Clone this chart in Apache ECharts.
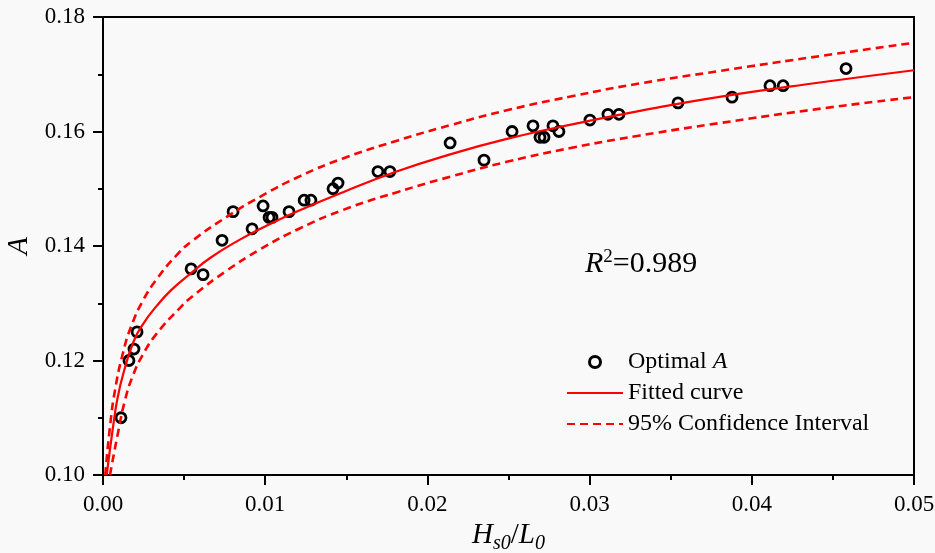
<!DOCTYPE html>
<html>
<head>
<meta charset="utf-8">
<script src="https://cdn.jsdelivr.net/npm/echarts@6/dist/echarts.min.js"></script>
<style>
  html, body { margin: 0; padding: 0; background: #fff; }
  #chart { width: 935px; height: 553px; }
</style>
</head>
<body>
<div id="chart"></div>
<script>
// measured points (Hs0/L0, optimal A)
const pointX = [0.00111, 0.0016, 0.00191, 0.0021, 0.00543, 0.00617, 0.00734, 0.00802, 0.00919, 0.00987,
  0.01024, 0.01042, 0.01147, 0.0124, 0.01282, 0.01418, 0.01449, 0.01695, 0.01769, 0.0214,
  0.02349, 0.02522, 0.02651, 0.02694, 0.02719, 0.02774, 0.02811, 0.03002, 0.03113, 0.03181,
  0.03545, 0.03878, 0.04112, 0.04193, 0.04581];
const pointY = [0.110, 0.120, 0.122, 0.125, 0.136, 0.135, 0.141, 0.146, 0.143, 0.147,
  0.145, 0.145, 0.146, 0.148, 0.148, 0.150, 0.151, 0.153, 0.153, 0.158,
  0.155, 0.160, 0.161, 0.159, 0.159, 0.161, 0.160, 0.162, 0.163, 0.163,
  0.165, 0.166, 0.168, 0.168, 0.171];

// fitted curve
const fitX = [0.00023, 0.0006, 0.0009, 0.0013, 0.0019, 0.0025, 0.0033, 0.0042, 0.0054, 0.0066, 0.0083,
  0.0102, 0.0121, 0.0148, 0.0181, 0.0214, 0.0249, 0.029, 0.0331, 0.0381, 0.0443, 0.05];
const fitY = [0.100, 0.108, 0.1135, 0.1182, 0.1234, 0.1265, 0.1295, 0.1323, 0.1352, 0.1379, 0.1409,
  0.1437, 0.1462, 0.1494, 0.1530, 0.1560, 0.1587, 0.1613, 0.1636, 0.1661, 0.1686, 0.1707];

// 95% confidence band
const upperX = [0.00014, 0.00043, 0.00074, 0.00123, 0.00177, 0.00247, 0.00331, 0.00454, 0.00555, 0.00763,
  0.00968, 0.01215, 0.0148, 0.01813, 0.0214, 0.02489, 0.02898, 0.03311, 0.03808, 0.04426, 0.05];
const upperY = [0.100, 0.1084, 0.1148, 0.1213, 0.1262, 0.1305, 0.1342, 0.1384, 0.1410, 0.1451,
  0.1486, 0.1522, 0.1553, 0.1584, 0.1611, 0.1637, 0.1662, 0.1684, 0.1706, 0.1732, 0.1755];
const lowerX = [0.00043, 0.00092, 0.00136, 0.00185, 0.00247, 0.00331, 0.00475, 0.00555, 0.00763, 0.00968,
  0.01215, 0.0148, 0.01813, 0.0214, 0.02489, 0.02898, 0.03311, 0.03808, 0.04426, 0.05];
const lowerY = [0.100, 0.1073, 0.1131, 0.1174, 0.1211, 0.1247, 0.1292, 0.1313, 0.1357, 0.1394,
  0.1431, 0.1463, 0.1494, 0.1521, 0.1547, 0.1572, 0.1593, 0.1615, 0.1640, 0.1660];

const zip = (xs, ys) => xs.map((x, i) => [x, ys[i]]);
const FONT = "'Liberation Serif', 'DejaVu Serif', serif";
const RED = "#ff0000";

const chart = echarts.init(document.getElementById("chart"));

const axisCommon = {
  axisLine: { show: true, onZero: false, lineStyle: { color: "#000", width: 2 } },
  axisTick: { show: true, inside: false, length: 10, lineStyle: { color: "#000", width: 2 } },
  minorTick: { show: true, splitNumber: 2, length: 5, lineStyle: { color: "#000", width: 2 } },
  splitLine: { show: false },
  axisLabel: { color: "#000", fontFamily: FONT, fontSize: 23, margin: 18, formatter: (v) => v.toFixed(2) },
};

const lineSeries = (name, xs, ys, dashed) => ({
  name, type: "line", data: zip(xs, ys),
  showSymbol: false, symbol: "none", smooth: 0.5, z: 4,
  lineStyle: { color: RED, width: dashed ? 2.6 : 2.2, type: dashed ? [8, 5] : "solid" },
  itemStyle: { color: RED },
});

chart.setOption({
  backgroundColor: "#f9f9f9",
  animation: false,
  grid: {
    left: 103, right: 21, top: 17, bottom: 78, outerBoundsMode: "none",
    show: true, borderColor: "#000", borderWidth: 2,
  },
  xAxis: {
    ...axisCommon,
    type: "value", min: 0, max: 0.05, interval: 0.01,
    name: "{i|H}{sub|s0}{t|/}{i|L}{sub|0}",
    nameLocation: "middle", nameGap: 40,
    nameTextStyle: {
      fontFamily: FONT, color: "#000",
      rich: {
        i: { fontFamily: FONT, fontStyle: "italic", fontSize: 29, color: "#000" },
        t: { fontFamily: FONT, fontSize: 29, color: "#000" },
        sub: { fontFamily: FONT, fontStyle: "italic", fontSize: 20, color: "#000", padding: [16, 0, 0, 0] },
      },
    },
  },
  yAxis: {
    ...axisCommon,
    type: "value", min: 0.10, max: 0.18, interval: 0.02,
    name: "A", nameLocation: "middle", nameGap: 55,
    nameTextStyle: { fontFamily: FONT, fontStyle: "italic", fontSize: 29, color: "#000" },
  },
  legend: {
    orient: "vertical", left: 561, top: 345,
    itemWidth: 56, itemHeight: 11, itemGap: 7,
    textStyle: {
      fontFamily: FONT, fontSize: 24, color: "#000", lineHeight: 24,
      rich: {
        n: { fontFamily: FONT, fontSize: 24, color: "#000" },
        i: { fontFamily: FONT, fontSize: 24, fontStyle: "italic", color: "#000" },
      },
    },
    formatter: (name) => name === "Optimal A" ? "{n|Optimal }{i|A}" : name,
    data: [
      { name: "Optimal A", icon: "circle", itemStyle: { color: "transparent", borderColor: "#000", borderWidth: 3, opacity: 1 } },
      { name: "Fitted curve", itemStyle: { opacity: 0 } },
      { name: "95% Confidence Interval", itemStyle: { opacity: 0 } },
    ],
  },
  graphic: [{
    type: "text", left: 585, top: 248,
    style: {
      text: "{i|R}{sup|2}{t|=0.989}",
      rich: {
        i: { fontFamily: FONT, fontStyle: "italic", fontSize: 30, fill: "#000" },
        t: { fontFamily: FONT, fontSize: 30, fill: "#000" },
        sup: { fontFamily: FONT, fontSize: 19, fill: "#000", padding: [0, 0, 14, 0] },
      },
    },
  }],
  series: [
    {
      name: "Optimal A", type: "scatter", data: zip(pointX, pointY),
      symbol: "circle", symbolSize: 10, z: 3,
      itemStyle: { color: "transparent", borderColor: "#000", borderWidth: 2.8, opacity: 1 },
    },
    lineSeries("Fitted curve", fitX, fitY, false),
    lineSeries("95% Confidence Interval", upperX, upperY, true),
    lineSeries("95% Confidence Interval", lowerX, lowerY, true),
  ],
});
</script>
</body>
</html>
